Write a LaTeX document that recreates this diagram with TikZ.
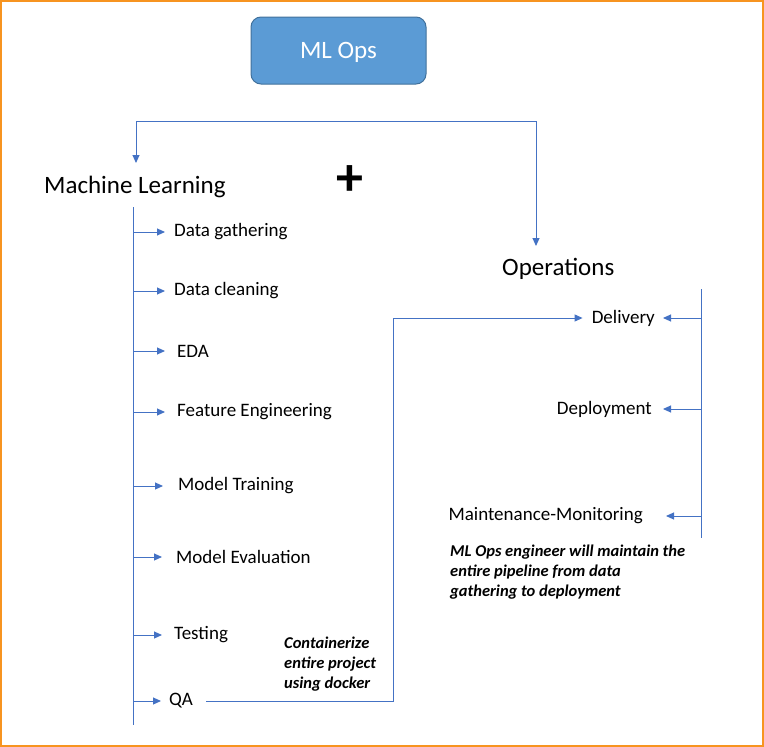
\documentclass[tikz,border=0pt]{standalone}
\usepackage{fontspec}
\setmainfont{Carlito}
\usetikzlibrary{arrows.meta}
\definecolor{lineblue}{HTML}{4472C4}
\definecolor{boxfill}{HTML}{5B9BD5}
\definecolor{boxdraw}{HTML}{41719C}
\definecolor{frameor}{HTML}{F79420}
\tikzset{
  conn/.style={draw=lineblue, line width=1pt},
  arr/.style={conn, -{Triangle[length=8pt,width=7pt]}},
  item/.style={inner sep=0pt, font=\fontsize{19}{22}\selectfont},
  head/.style={inner sep=0pt, font=\fontsize{25}{30}\selectfont},
  note/.style={inner sep=0pt, align=left, font=\fontsize{16.5}{20}\selectfont\bfseries\itshape},
}
\begin{document}
\begin{tikzpicture}[x=1pt,y=-1pt]
\useasboundingbox (0,0) rectangle (764,747);
\draw[frameor, line width=2pt] (1,1) rectangle (762.5,745.5);

% ML Ops box
\node[draw=boxdraw, fill=boxfill, line width=1pt, rounded corners=10pt,
      minimum width=175pt, minimum height=67pt, text=white, text depth=0pt,
      font=\fontsize{25}{30}\selectfont] (mlops) at (338.5,50.5) {ML Ops};

% headings
\node[head, anchor=west] (ml) at (44,187) {Machine Learning};
\node[head, anchor=west] (ops) at (502,269) {Operations};
\node[inner sep=0pt, font=\fontsize{54}{54}\selectfont\bfseries] (plus) at (349.5,181) {+};

% top connector
\coordinate (mlin) at (136,163);
\coordinate (tl) at (136,121);
\coordinate (tr) at (536,121);
\coordinate (opin) at (536,246);
\draw[conn, {Triangle[length=8pt,width=7pt]}-{Triangle[length=8pt,width=7pt]}] (mlin) -- (tl) -- (tr) -- (opin);

% ML spine
\coordinate (sptop) at (133,207);
\coordinate (spbot) at (133,725);
\draw[conn] (sptop) -- (spbot);

\node[item, anchor=west] (dg) at (174,232) {Data gathering};
\node[item, anchor=west] (dc) at (174,291) {Data cleaning};
\node[item, anchor=west] (eda) at (177,351) {EDA};
\node[item, anchor=west] (fe) at (177,412) {Feature Engineering};
\node[item, anchor=west] (mt) at (178,486) {Model Training};
\node[item, anchor=west] (me) at (176,557) {Model Evaluation};
\node[item, anchor=west] (te) at (174,635) {Testing};
\node[item, anchor=west] (qa) at (169,701) {QA};

\draw[arr, shorten >=9pt] (sptop |- dg.west) -- (dg.west);
\draw[arr, shorten >=9pt] (sptop |- dc.west) -- (dc.west);
\draw[arr, shorten >=12pt] (sptop |- eda.west) -- (eda.west);
\draw[arr, shorten >=12pt] (sptop |- fe.west) -- (fe.west);
\draw[arr, shorten >=15pt] (sptop |- mt.west) -- (mt.west);
\draw[arr, shorten >=14pt] (sptop |- me.west) -- (me.west);
\draw[arr, shorten >=12pt] (sptop |- te.west) -- (te.west);
\draw[arr, shorten >=8pt] (sptop |- qa.west) -- (qa.west);

% Operations side
\node[item, anchor=east] (del) at (655,318) {Delivery};
\node[item, anchor=east] (dep) at (652,409) {Deployment};
\node[item, anchor=east] (mm) at (643,516) {Maintenance-Monitoring};

\coordinate (rtop) at (701,289);
\coordinate (rbot) at (701,538);
\draw[conn] (rtop) -- (rbot);
\draw[arr, shorten >=8pt] (rtop |- del.east) -- (del.east);
\draw[arr, shorten >=11pt] (rtop |- dep.east) -- (dep.east);
\draw[arr, shorten >=23pt] (rtop |- mm.east) -- (mm.east);

% QA -> Delivery
\coordinate (bx) at (393,0);
\draw[arr, shorten <=13pt, shorten >=9pt] (qa.east) -| (bx |- del.west) -- (del.west);

% notes
\node[note, anchor=north west] (dock) at (284,637) {Containerize\\entire project\\using docker};
\node[note, anchor=north west] (eng) at (450,545) {ML Ops engineer will maintain the\\entire pipeline from data\\gathering to deployment};
\end{tikzpicture}
\end{document}
